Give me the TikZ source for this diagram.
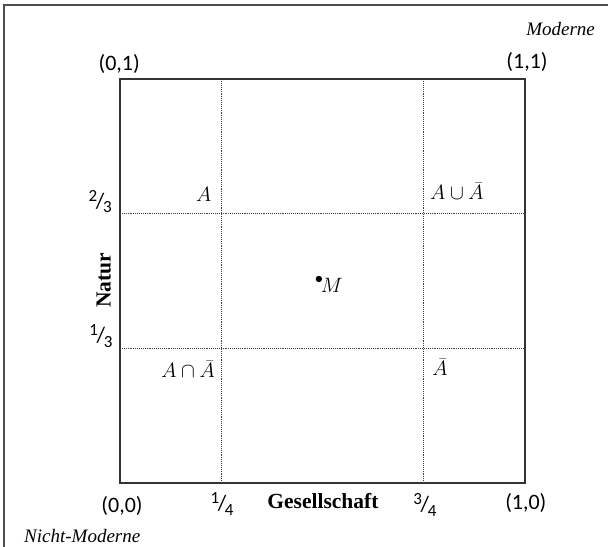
\documentclass[tikz,border=0pt]{standalone}
\usepackage{fontspec}
\setmainfont{Liberation Serif}
\newfontfamily\coordfont{Carlito}
\newcommand{\frc}[2]{{\coordfont\fontsize{17}{20}\selectfont\raisebox{.42em}{#1}\kern-.08em{\fontsize{22}{24}\selectfont/}\kern-.08em\raisebox{-.25em}{#2}}}
\tikzset{
  coordlabel/.style={font=\coordfont\fontsize{22}{26}\selectfont, inner sep=0pt},
  axislabel/.style={font=\bfseries\fontsize{21.5}{26}\selectfont, inner sep=0pt},
  setlabel/.style={font=\fontsize{20.74}{24}\selectfont, inner sep=0pt},
  epochlabel/.style={font=\itshape\fontsize{19}{23}\selectfont, inner sep=0pt},
  gridline/.style={densely dotted, line width=0.9pt, black!75},
}
\begin{document}
\begin{tikzpicture}[x=405pt, y=404pt]
	\useasboundingbox (-0.2963,-0.1584) rectangle (1.2049,1.1955);

	% cadre
	\draw[line width=1.6pt, black!70] (-0.286,-0.2) -- (-0.286,1.183) -- (1.25,1.183);

	% carre
	\draw[line width=1.8pt, black!80] (0,0) rectangle (1,1);
	%%% lignes 1/4, 3/4, 1/3, 2/3
	\draw[gridline] (0.25,0) -- (0.25,1);
	\draw[gridline] (0.75,0) -- (0.75,1);
	\draw[gridline] (0,1/3) -- (1,1/3);
	\draw[gridline] (0,2/3) -- (1,2/3);

	% coins
	\node[coordlabel] (c01) at (-0.002,1.036) {(0,1)};
	\node[coordlabel] (c11) at (1.005,1.042) {(1,1)};
	\node[coordlabel] (c00) at (0.005,-0.057) {(0,0)};
	\node[coordlabel] (c10) at (1.002,-0.050) {(1,0)};

	% axes
	\node[coordlabel] (x1) at (0.252,-0.052) {\frc{1}{4}};
	\node[axislabel] (xlab) at (0.501,-0.045) {Gesellschaft};
	\node[coordlabel] (x3) at (0.753,-0.054) {\frc{3}{4}};
	\node[coordlabel] (y2) at (-0.049,0.696) {\frc{2}{3}};
	\node[coordlabel] (y1) at (-0.047,0.364) {\frc{1}{3}};
	\node[axislabel, rotate=90] (ylab) at (-0.040,0.502) {Natur};

	% ensembles
	\node[setlabel] (a) at (0.207,0.715) {$A$};
	\node[setlabel] (aor) at (0.832,0.723) {$A \cup \bar{A}$};
	\node[setlabel] (aand) at (0.168,0.282) {$A \cap \bar{A}$};
	\node[setlabel] (abar) at (0.790,0.287) {$\bar{A}$};

	%%% point M
	\fill (0.491,0.505) circle (3.2pt) coordinate (m);
	\node[setlabel] (mlab) at (0.523,0.490) {$M$};

	% moderne / nicht-moderne
	\node[epochlabel, anchor=east] (mod) at (1.173,1.124) {Moderne};
	\node[epochlabel, anchor=west] (nmod) at (-0.237,-0.131) {Nicht-Moderne};
\end{tikzpicture}
\end{document}
